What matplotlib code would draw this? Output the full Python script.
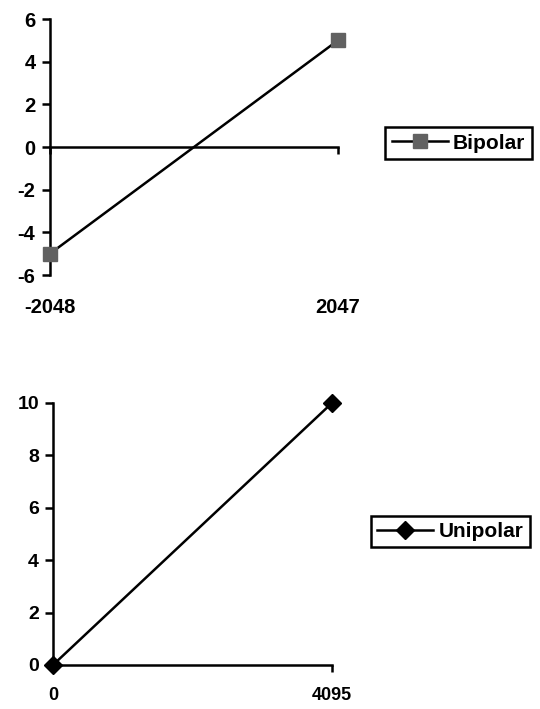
import matplotlib.pyplot as plt
import matplotlib.transforms as mtransforms

plt.rcParams["font.family"] = ["Liberation Sans", "DejaVu Sans"]
plt.rcParams["font.weight"] = "bold"

# data
bipolar_codes = [-2048, 2047]
bipolar_volts = [-5, 5]
unipolar_codes = [0, 4095]
unipolar_volts = [0, 10]

fig = plt.figure(figsize=(5.4, 7.09), dpi=100)

# top chart: bipolar
ax1 = fig.add_axes([0.0926, 0.6121, 0.5333, 0.3611])
ax1.plot(bipolar_codes, bipolar_volts, color="black", lw=1.8,
         marker="s", markersize=10, markerfacecolor="#616161",
         markeredgecolor="#616161", label="Bipolar", clip_on=False, zorder=5)
ax1.set_xlim(bipolar_codes[0], bipolar_codes[-1])
ax1.set_ylim(-6, 6)
ax1.set_yticks(range(-6, 7, 2))
ax1.set_yticklabels([str(v) for v in range(-6, 7, 2)])
ax1.spines["top"].set_visible(False)
ax1.spines["right"].set_visible(False)
ax1.spines["bottom"].set_position(("data", 0))
ax1.spines["left"].set_linewidth(1.8)
ax1.spines["bottom"].set_linewidth(1.8)
ax1.set_xticks(bipolar_codes)
ax1.tick_params(axis="x", direction="out", length=5, width=1.8, labelbottom=False)
ax1.tick_params(axis="y", direction="out", length=6, width=1.8, labelsize=14.5, pad=4.5)
tr1 = mtransforms.blended_transform_factory(ax1.transData, ax1.transAxes)
for c in bipolar_codes:
    ax1.text(c, -0.126, str(c), transform=tr1, ha="center", va="center",
             fontsize=14.5, fontweight="bold")
leg1 = fig.legend(*ax1.get_legend_handles_labels(), loc="center",
                  bbox_to_anchor=(0.849, 0.798), frameon=True, fancybox=False,
                  edgecolor="black", framealpha=1, fontsize=15, handlelength=2.7,
                  handletextpad=0.25, borderpad=0.3)
leg1.get_frame().set_linewidth(1.8)

# bottom chart: unipolar
ax2 = fig.add_axes([0.0981, 0.0621, 0.5167, 0.3695])
ax2.plot(unipolar_codes, unipolar_volts, color="black", lw=1.8,
         marker="D", markersize=9, markerfacecolor="black",
         markeredgecolor="black", label="Unipolar", clip_on=False, zorder=5)
ax2.set_xlim(unipolar_codes[0], unipolar_codes[-1])
ax2.set_ylim(0, 10)
ax2.set_yticks(range(0, 11, 2))
ax2.spines["top"].set_visible(False)
ax2.spines["right"].set_visible(False)
ax2.spines["left"].set_linewidth(1.8)
ax2.spines["bottom"].set_linewidth(1.8)
ax2.set_xticks(unipolar_codes)
ax2.tick_params(axis="x", direction="out", length=5, width=1.8, labelbottom=False)
ax2.tick_params(axis="y", direction="out", length=6, width=1.8, labelsize=14, pad=4)
tr2 = mtransforms.blended_transform_factory(ax2.transData, ax2.transAxes)
for c in unipolar_codes:
    ax2.text(c, -0.1147, str(c), transform=tr2, ha="center", va="center",
             fontsize=13, fontweight="bold")
leg2 = fig.legend(*ax2.get_legend_handles_labels(), loc="center",
                  bbox_to_anchor=(0.834, 0.2503), frameon=True, fancybox=False,
                  edgecolor="black", framealpha=1, fontsize=15, handlelength=2.7,
                  handletextpad=0.25, borderpad=0.3)
leg2.get_frame().set_linewidth(1.8)

fig.savefig("out.png", dpi=100, facecolor="white")
